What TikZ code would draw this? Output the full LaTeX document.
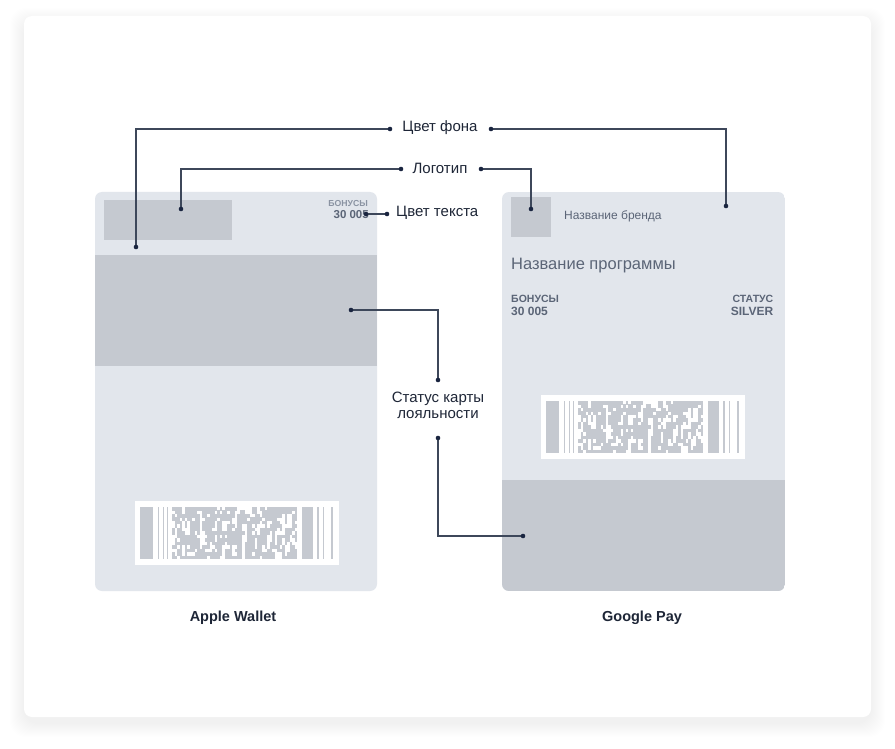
\documentclass[tikz,border=0pt]{standalone}
\usepackage{fontspec}
\setmainfont{Liberation Sans}
\definecolor{cardc}{HTML}{E2E6EC}
\definecolor{blockc}{HTML}{C5C9D0}
\definecolor{cardtxt}{HTML}{5B6577}
\definecolor{cardlight}{HTML}{8A93A2}
\definecolor{labc}{HTML}{1E2637}
\definecolor{linec}{HTML}{3D475A}
\definecolor{dotc}{HTML}{1A2540}
\definecolor{shadowc}{HTML}{9098B8}
\newcommand\mybarcode[2]{%
  \begin{scope}[shift={(#1,#2)}]
    \fill[white] (0,0) rectangle (204,64);
    \fill[blockc] (4.5,6) rectangle (18,58);
    \foreach \xx in {22.5,27.5,31.5} \fill[blockc] (\xx,6) rectangle ++(1.6,52);
    \fill[blockc] (167,6) rectangle (178,58);
    \foreach \xx in {182,187.5,196} \fill[blockc] (\xx,6) rectangle ++(1.6,52);
    \pgfmathsetseed{23}
    \foreach \i in {0,...,49}{
      \gdef\cellstate{1}
      \foreach \j in {0,...,14}{
        \pgfmathsetmacro\rr{rnd}
        \ifdim\rr pt>0.3pt
          \pgfmathsetmacro\ss{rnd}
          \ifdim\ss pt<0.7pt \gdef\cellstate{1}\else\gdef\cellstate{0}\fi
        \fi
        \ifnum\cellstate=1
          \fill[blockc] ({37+\i*2.5},{6+\j*3.47}) rectangle ++(2.6,3.6);
        \fi
      }
    }
  \end{scope}}
\begin{document}
\begin{tikzpicture}[x=1pt,y=-1pt,
  conn/.style={draw=linec,line width=1.1pt},
  lbl/.style={text=labc,font=\fontsize{15}{17}\selectfont,inner sep=0pt},
  captxt/.style={text=labc,font=\bfseries\fontsize{14.5}{16}\selectfont,inner sep=0pt},
  tiny/.style={text=cardlight,font=\bfseries\fontsize{8.7}{10}\selectfont,inner sep=0pt},
  small/.style={text=cardtxt,font=\fontsize{12}{14}\selectfont,inner sep=0pt},
  smallb/.style={text=cardtxt,font=\bfseries\fontsize{10.5}{12}\selectfont,inner sep=0pt},
  big/.style={text=cardtxt,font=\fontsize{16.5}{18}\selectfont,inner sep=0pt}]
\useasboundingbox (0,0) rectangle (895,749);
\fill[white] (0,0) rectangle (895,749);
% outer card with soft shadow
\foreach \k in {1,...,14}
  \fill[shadowc,opacity=0.0045,rounded corners=16pt] (24-\k,16-\k+6) rectangle (871+\k,717+\k+6);
\fill[white,rounded corners=8pt] (24,16) rectangle (871,717);

% left card (Apple Wallet)
\fill[cardc,rounded corners=7pt] (95,192) rectangle (377,591);
\fill[blockc] (95,255) rectangle (377,366);
\fill[blockc] (104,200) rectangle (232,240);
\node[tiny,anchor=east] (lbon) at (368,204) {БОНУСЫ};
\node[smallb,anchor=east,font=\bfseries\fontsize{11.5}{13}\selectfont] (lnum) at (369,215) {30 005};
\mybarcode{135}{501}

% right card (Google Pay)
\begin{scope}
  \clip[rounded corners=7pt] (502,192) rectangle (785,591);
  \fill[cardc] (502,192) rectangle (785,591);
  \fill[blockc] (502,480) rectangle (785,591);
\end{scope}
\fill[blockc] (511,197) rectangle (551,237);
\node[small,anchor=west] (brand) at (564,216.5) {Название бренда};
\node[big,anchor=west] (prog) at (511,266) {Название программы};
\node[smallb,anchor=west] (rbon) at (511,298.5) {БОНУСЫ};
\node[smallb,anchor=west,font=\bfseries\fontsize{12}{14}\selectfont] (rnum) at (511,311.5) {30 005};
\node[smallb,anchor=east] (rst) at (773.5,298.5) {СТАТУС};
\node[smallb,anchor=east,font=\bfseries\fontsize{12}{14}\selectfont] (rsil) at (773.5,311.5) {SILVER};
\mybarcode{541}{395}

% labels
\node[lbl] (fon) at (440,127.5) {Цвет фона};
\node[lbl] (logo) at (440,168) {Логотип};
\node[lbl,anchor=west] (tekst) at (396,212.5) {Цвет текста};
\node[lbl,align=center,font=\fontsize{15}{16}\selectfont] (status) at (438,405.5) {Статус карты\\лояльности};
\node[captxt] (apple) at (233,617.5) {Apple Wallet};
\node[captxt] (google) at (642,617.5) {Google Pay};

% connector end points
\coordinate (fonL) at (390,129);
\coordinate (fonA) at (136,247);
\coordinate (fonR) at (491,129);
\coordinate (fonG) at (726,206);
\coordinate (logoL) at (401,169);
\coordinate (logoA) at (181,209);
\coordinate (logoR) at (481,169);
\coordinate (logoG) at (531,209);
\coordinate (txtA) at (366,214);
\coordinate (txtL) at (387,214);
\coordinate (stA) at (351,310);
\coordinate (stT) at (438,380);
\coordinate (stB) at (438,438);
\coordinate (stG) at (523,536);

\draw[conn] (fonL) -| (fonA);
\draw[conn] (fonR) -| (fonG);
\draw[conn] (logoL) -| (logoA);
\draw[conn] (logoR) -| (logoG);
\draw[conn] (txtA) -- (txtL);
\draw[conn] (stA) -| (stT);
\draw[conn] (stB) |- (stG);
\foreach \p in {fonL,fonA,fonR,fonG,logoL,logoA,logoR,logoG,txtA,txtL,stA,stT,stB,stG}
  \fill[dotc] (\p) circle (2.3pt);
\end{tikzpicture}
\end{document}
